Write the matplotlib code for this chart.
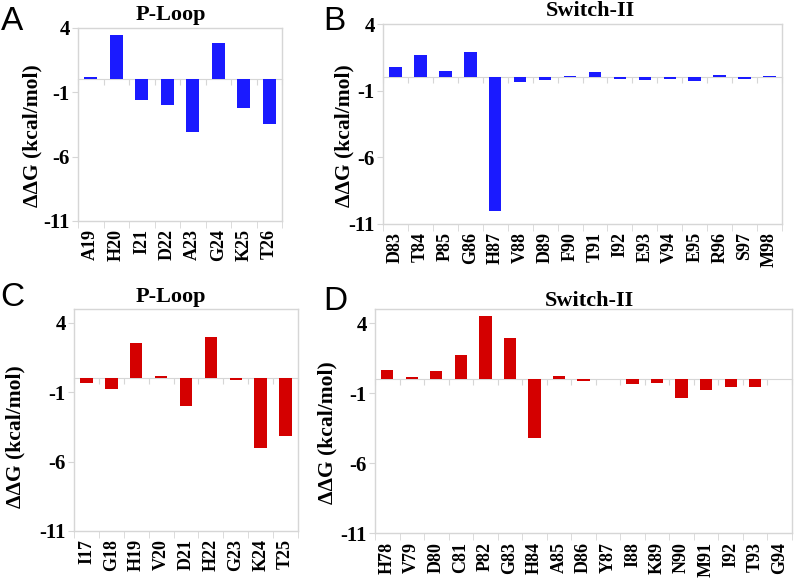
import numpy as np
import matplotlib
matplotlib.use('Agg')
import matplotlib.pyplot as plt
from matplotlib.ticker import FixedLocator, NullFormatter

plt.rcParams['font.family'] = ['Liberation Serif', 'DejaVu Serif']
plt.rcParams['font.weight'] = 'bold'

# values (kcal/mol)
a_labels = ['A19', 'H20', 'I21', 'D22', 'A23', 'G24', 'K25', 'T26']
a_vals = [0.2, 3.43, -1.58, -2.03, -4.1, 2.81, -2.26, -3.48]

b_labels = ['D83', 'T84', 'P85', 'G86', 'H87', 'V88', 'D89', 'F90',
            'T91', 'I92', 'E93', 'V94', 'E95', 'R96', 'S97', 'M98']
b_vals = [0.77, 1.68, 0.45, 1.88, -10.06, -0.33, -0.2, 0.12,
          0.42, -0.1, -0.23, -0.13, -0.25, 0.17, -0.15, 0.12]

c_labels = ['I17', 'G18', 'H19', 'V20', 'D21', 'H22', 'G23', 'K24', 'T25']
c_vals = [-0.3, -0.8, 2.58, 0.2, -2.0, 2.97, -0.15, -5.0, -4.16]

d_labels = ['H78', 'V79', 'D80', 'C81', 'P82', 'G83', 'H84', 'A85', 'D86',
            'Y87', 'I88', 'K89', 'N90', 'M91', 'I92', 'T93', 'G94']
d_vals = [0.66, 0.16, 0.59, 1.71, 4.52, 2.95, -4.21, 0.21, -0.17,
          -0.02, -0.38, -0.29, -1.38, -0.78, -0.53, -0.53, 0.02]

yticks = [4, -1, -6, -11]

BLUE = '#1a1aff'
RED = '#d40000'
GRID = '#d6d6d6'

W, H = 796, 578
fig = plt.figure(figsize=(W / 100, H / 100), dpi=100)


def px_rect(left, top, right, bottom):
    return [left / W, 1 - bottom / H, (right - left) / W, (bottom - top) / H]


def panel(rect, labels, vals, color, ylim, title, title_xy, ylab_xy,
          letter, letter_xy):
    ax = fig.add_axes(px_rect(*rect))
    x = np.arange(len(labels))
    ax.bar(x, vals, width=0.5, color=color, zorder=3)
    ax.set_xlim(-0.5, len(labels) - 0.5)
    ax.set_ylim(*ylim)

    for s in ax.spines.values():
        s.set_color(GRID)
        s.set_linewidth(1.0)

    ax.set_xticks(x)
    ax.set_xticklabels(labels, rotation=90, fontsize=13, fontweight='bold')
    ax.xaxis.set_minor_locator(FixedLocator(np.arange(len(labels) + 1) - 0.5))
    ax.tick_params(axis='x', which='major', length=0, pad=6)
    ax.tick_params(axis='x', which='minor', length=5, color=GRID, direction='out')

    ax.set_yticks(yticks)
    ax.set_yticklabels([str(t) for t in yticks], fontsize=15, fontweight='bold')
    ax.tick_params(axis='y', length=4, color=GRID, pad=2)

    # zero line with category-boundary ticks
    zero = (0 - ylim[0]) / (ylim[1] - ylim[0])
    sec = ax.secondary_xaxis(zero)
    sec.spines['top'].set_color(GRID)
    sec.spines['bottom'].set_color(GRID)
    sec.set_xticks(np.arange(len(labels) + 1) - 0.5)
    sec.xaxis.set_major_formatter(NullFormatter())
    sec.tick_params(direction='in', length=4, color=GRID)

    fig.text(title_xy[0] / W, 1 - title_xy[1] / H, title, fontsize=16,
             fontweight='bold', ha='center', va='center')
    fig.text(ylab_xy[0] / W, 1 - ylab_xy[1] / H, 'ΔΔG (kcal/mol)',
             fontsize=15.5, fontweight='bold', rotation=90,
             ha='center', va='center')
    fig.text(letter_xy[0] / W, 1 - letter_xy[1] / H, letter, fontsize=24,
             family='Liberation Sans', fontweight='normal',
             ha='left', va='center')
    return ax


panel((78, 27.7, 282, 221), a_labels, a_vals, BLUE, (-11, 4),
      'P-Loop', (171, 15), (32, 136), 'A', (1, 22))
panel((383, 24, 782, 223.5), b_labels, b_vals, BLUE, (-11, 4),
      'Switch-II', (590, 11), (344, 136), 'B', (323, 21))
panel((74, 309, 298, 531), c_labels, c_vals, RED, (-11, 5),
      'P-Loop', (171, 297), (15, 437), 'C', (0, 298))
panel((375, 309, 792, 533.3), d_labels, d_vals, RED, (-11, 5),
      'Switch-II', (589, 301), (327, 433), 'D', (323, 301))

fig.savefig('out.png', dpi=100)
